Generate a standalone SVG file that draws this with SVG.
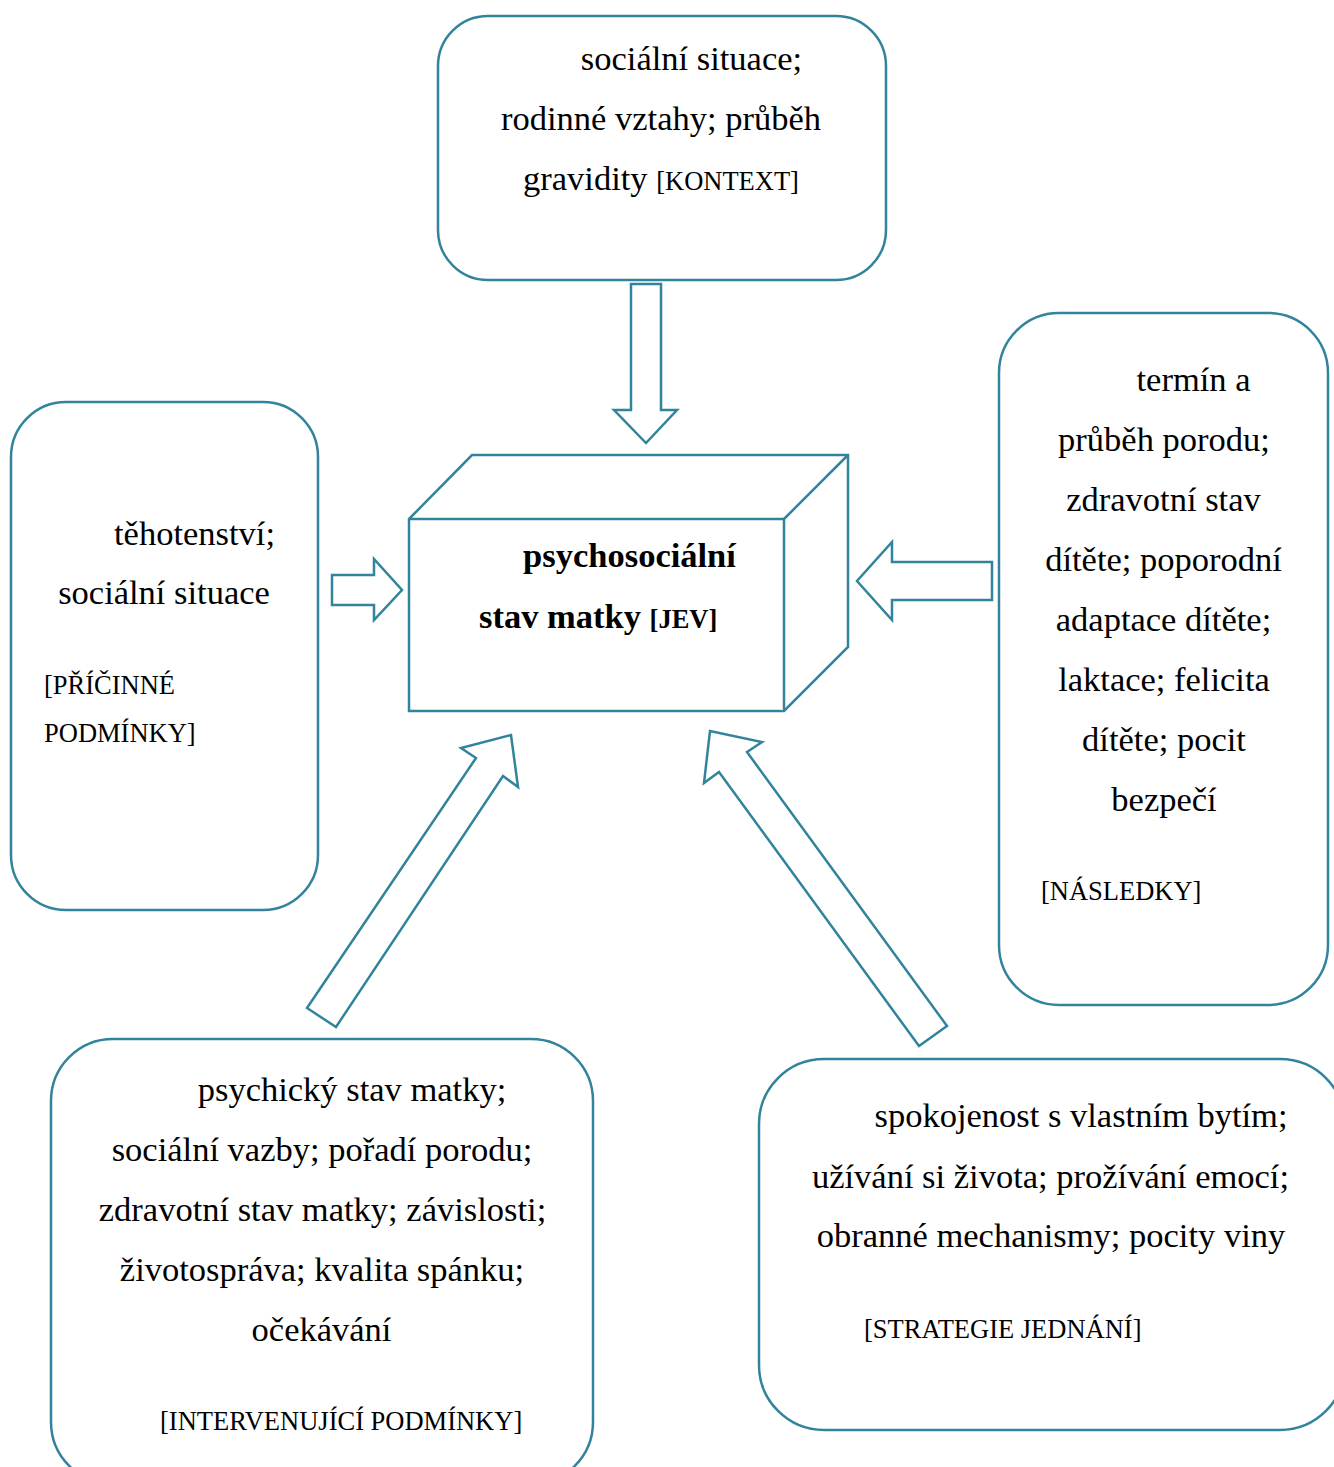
<svg xmlns="http://www.w3.org/2000/svg" width="1334" height="1467" viewBox="0 0 1334 1467">
<style>
.box{fill:#fff;stroke:#31849B;stroke-width:2.5}
.arr{fill:#fff;stroke:#31849B;stroke-width:2.5;stroke-linejoin:miter}
text{font-family:"Liberation Serif","Times New Roman",serif;fill:#000}
.m{font-size:34.5px}
.s{font-size:26.5px}
.c{text-anchor:middle}
.b{font-weight:bold}
</style>
<rect width="1334" height="1467" fill="#fff"/>
<g id="connectors">
<polygon class="arr" points="631,284 661,284 661,410 677,410 646,443 614,410 631,410"/>
<polygon class="arr" points="332,575 374,575 374,559 402,590 374,620 374,605 332,605"/>
<polygon class="arr" points="992,562 892,562 892,542 857,581 892,620 892,600 992,600"/>
<polygon class="arr" points="307,1008 476,758 461,748 511,735 518,787 503,776 336,1027"/>
<polygon class="arr" points="947,1026 747,752 762,742 710,731 704,783 719,772 919,1046"/>
</g>
<g id="kontext">
<rect class="box" x="438" y="16" width="448" height="264" rx="50" ry="50"/>
<text class="m c" x="691.5" y="70">sociální situace;</text>
<text class="m c" x="661" y="130">rodinné vztahy; průběh</text>
<text class="m" x="523" y="190">gravidity <tspan class="s">[KONTEXT]</tspan></text>
</g>
<g id="pricinne">
<rect class="box" x="11" y="402" width="307" height="508" rx="55" ry="55"/>
<text class="m c" x="194.5" y="545">těhotenství;</text>
<text class="m c" x="164" y="604">sociální situace</text>
<text class="s" x="44" y="694">[PŘÍČINNÉ</text>
<text class="s" x="44" y="742">PODMÍNKY]</text>
</g>
<g id="jev">
<polygon class="box" points="409,519 472,455 848,455 848,647 784,711 409,711"/>
<polyline class="box" fill="none" points="409,519 784,519 784,711"/>
<line class="box" x1="784" y1="519" x2="848" y2="455"/>
<text class="m c b" x="629.5" y="567">psychosociální</text>
<text class="m b" x="479" y="628">stav matky <tspan class="s">[JEV]</tspan></text>
</g>
<g id="nasledky">
<rect class="box" x="999" y="313" width="329" height="692" rx="60" ry="60"/>
<text class="m c" x="1193.5" y="391">termín a</text>
<text class="m c" x="1164" y="451">průběh porodu;</text>
<text class="m c" x="1163.5" y="511">zdravotní stav</text>
<text class="m c" x="1163.5" y="571">dítěte; poporodní</text>
<text class="m c" x="1163.5" y="631">adaptace dítěte;</text>
<text class="m c" x="1164" y="691">laktace; felicita</text>
<text class="m c" x="1164" y="751">dítěte; pocit</text>
<text class="m c" x="1164" y="811">bezpečí</text>
<text class="s" x="1041" y="900">[NÁSLEDKY]</text>
</g>
<g id="intervenujici">
<rect class="box" x="51" y="1039" width="542" height="445" rx="62" ry="62"/>
<text class="m c" x="352" y="1101">psychický stav matky;</text>
<text class="m c" x="322" y="1161">sociální vazby; pořadí porodu;</text>
<text class="m c" x="322.5" y="1221">zdravotní stav matky; závislosti;</text>
<text class="m c" x="322" y="1281">životospráva; kvalita spánku;</text>
<text class="m c" x="321.5" y="1341">očekávání</text>
<text class="s" x="160" y="1430">[INTERVENUJÍCÍ PODMÍNKY]</text>
</g>
<g id="strategie">
<rect class="box" x="759" y="1059" width="586" height="371" rx="65" ry="65"/>
<text class="m c" x="1081" y="1127">spokojenost s vlastním bytím;</text>
<text class="m c" x="1050.5" y="1188">užívání si života; prožívání emocí;</text>
<text class="m c" x="1051" y="1247">obranné mechanismy; pocity viny</text>
<text class="s" x="864" y="1338">[STRATEGIE JEDNÁNÍ]</text>
</g>
</svg>
